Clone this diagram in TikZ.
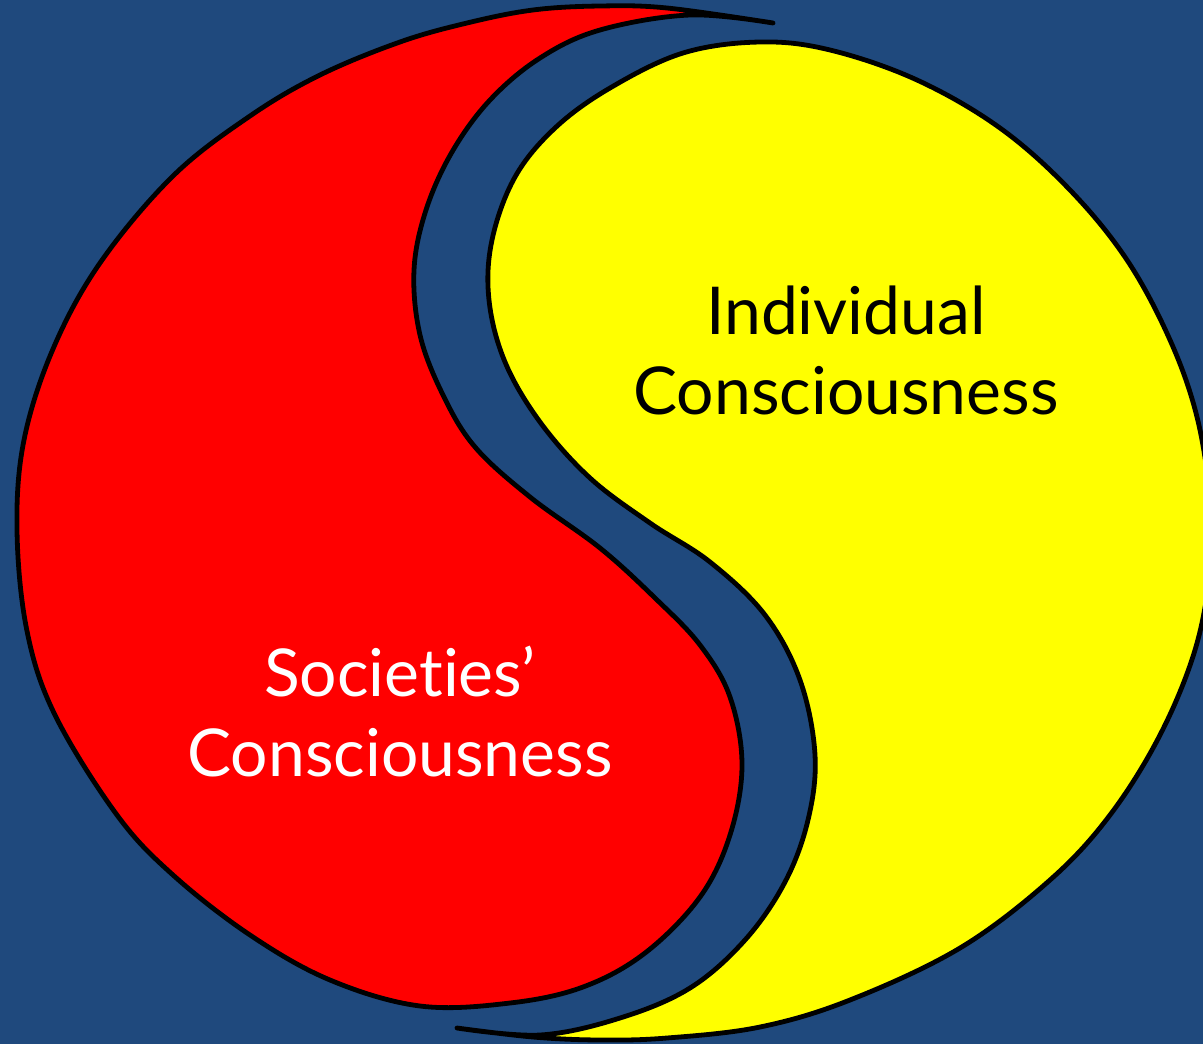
\documentclass[tikz,border=0pt]{standalone}
\usepackage{fontspec}
\newfontfamily\halffont[Ligatures=NoCommon]{Lato}
\definecolor{bgblue}{RGB}{31,73,125}
\definecolor{halfred}{RGB}{255,0,0}
\definecolor{halfyellow}{RGB}{255,255,0}

\begin{document}
\begin{tikzpicture}[line cap=round,line join=round,x=0.5pt,y=-0.5pt,
	halfshape/.style={draw=black,line width=2.4pt},
	halftext/.style={align=center,font=\halffont\fontsize{33}{40}\selectfont,inner sep=0pt}]
	\useasboundingbox (0,0) rectangle (1203,1044);
	\fill[bgblue] (0,0) rectangle (1203,1044);
	%% red half, tip at the top
	\draw[halfshape,fill=halfred] plot[smooth,tension=0.6] coordinates {
		(773,23) (667,8) (600,6) (533,10) (467,23) (400,42) (320,75) (250,116)
		(173,176) (100,263) (53,349) (24,440) (17,530) (27,631) (55,715)
		(117,815) (173,875) (250,935) (330,980) (420,1006) (510,1003) (583,987)
		(645,953) (700,897) (730,835) (742,765) (730,697) (700,645) (655,598)
		(600,548) (530,497) (475,447) (443,395) (420,335) (414,270) (426,210)
		(452,152) (490,100) (540,58) (600,30) (690,15) (773,23)};
	%% yellow half, tip at the bottom
	\draw[halfshape,fill=halfyellow] plot[smooth,tension=0.6] coordinates {
		(457,1028) (540,1035) (620,1018) (690,988) (745,940) (785,882) (808,820)
		(815,755) (800,680) (765,615) (710,562) (650,523) (590,478) (540,422)
		(505,362) (489,300) (492,240) (515,177) (555,128) (610,88) (683,53)
		(760,42) (830,50) (917,80) (1000,128) (1070,190) (1127,260) (1170,340)
		(1197,417) (1210,500) (1210,570) (1195,650) (1160,735) (1110,815)
		(1050,880) (960,948) (850,1000) (760,1027) (667,1038) (600,1040)
		(533,1037) (457,1028)};
	\node[halftext,text=black] (indiv) at (846,350) {Individual\\Consciousness};
	\node[halftext,text=white] (society) at (400,712) {Societies’\\Consciousness};
\end{tikzpicture}
\end{document}
